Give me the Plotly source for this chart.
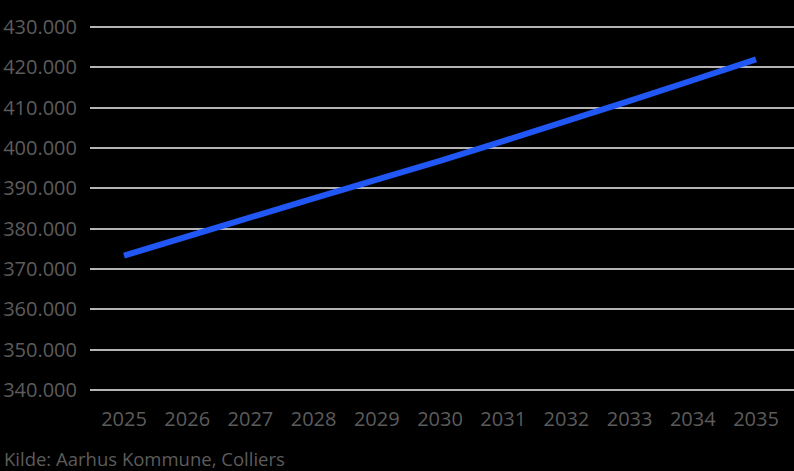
import plotly.graph_objects as go

years = [2025, 2026, 2027, 2028, 2029, 2030, 2031, 2032, 2033, 2034, 2035]
population = [373300, 378200, 382800, 387500, 392000, 396800, 401700, 406600, 411700, 416800, 422000]
y_ticks = [340000, 350000, 360000, 370000, 380000, 390000, 400000, 410000, 420000, 430000]
y_labels = [f"{v:,}".replace(",", ".") for v in y_ticks]
source = "Kilde: Aarhus Kommune, Colliers"

font_family = "Open Sans"
text_color = "#5c5c5c"

fig = go.Figure()
fig.add_trace(go.Scatter(
    x=years, y=population, mode="lines",
    line=dict(color="#2158f5", width=6),
    hoverinfo="skip", showlegend=False,
))

fig.update_layout(
    width=794, height=471,
    paper_bgcolor="black", plot_bgcolor="black",
    margin=dict(l=90, r=0, t=25, b=79),
    font=dict(family=font_family, color=text_color, size=20),
    xaxis=dict(
        range=[2024.462, 2035.601], tickmode="array", tickvals=years,
        ticktext=[str(y) for y in years], showgrid=False, zeroline=False,
        showline=False, ticks="", tickfont=dict(size=20, color=text_color),
        ticklabelstandoff=13,
    ),
    yaxis=dict(
        range=[339500, 430500], tickmode="array", tickvals=y_ticks,
        ticktext=y_labels, showgrid=True, gridcolor="#b4b4b4", gridwidth=2,
        zeroline=False, showline=False, ticks="",
        tickfont=dict(size=20, color=text_color), ticklabelstandoff=12,
    ),
    annotations=[dict(
        text=source, xref="paper", yref="paper",
        x=(2 - 90) / 704, y=(392 - 458) / 367, xanchor="left", yanchor="middle",
        showarrow=False, font=dict(size=18.5, color=text_color, family=font_family),
    )],
)

fig.write_html(
    "out.html",
    config={"displayModeBar": False},
    post_script="document.body.style.margin='0';document.body.style.background='black';",
)
